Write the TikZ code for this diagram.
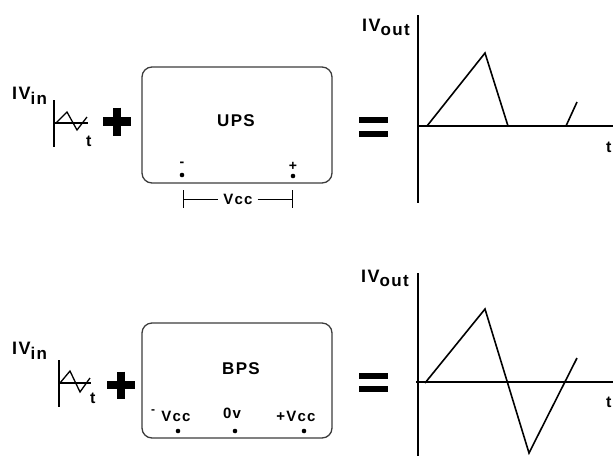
\documentclass[tikz,border=0pt]{standalone}
\usepackage{fontspec}
\setmainfont{Liberation Sans}
\newfontfamily\psfont[LetterSpace=8]{Liberation Sans}
\definecolor{ps-frame}{RGB}{60,60,60}

\begin{document}
\begin{tikzpicture}[x=1pt,y=-1pt,
    axis/.style={line width=1.2pt},
    wave/.style={line width=1.6pt},
    psbox/.style={draw=ps-frame, line width=1.3pt, rounded corners=10pt,
      minimum width=190pt, minimum height=116pt},
    lbl/.style={inner sep=0pt, font=\psfont\bfseries\fontsize{15}{15}\selectfont},
    big/.style={inner sep=0pt, font=\psfont\bfseries\fontsize{18}{18}\selectfont},
    pin/.style={circle, fill, inner sep=0pt, minimum size=4.6pt}]
    \useasboundingbox (0,0) rectangle (613,456);

    % unipolar supply
    \node[big, anchor=base west] (vinA) at (12,99)
        {IV\raisebox{-5pt}{\fontsize{17}{17}\selectfont in}};
    \draw[axis] (54,100) -- (54,147);
    \draw[axis] (54,123) -- (88,123);
    \draw[line width=1.3pt] (56,123) -- (67,112) -- (77,130) -- (87,117);
    \node[lbl, font=\psfont\bfseries\fontsize{16}{16}\selectfont, anchor=base west] (tA) at (86,146) {t};
    \draw[line width=8.5pt] (103,121.5) -- (131,121.5) (117,107.5) -- (117,135.5);

    \node[psbox] (ups) at (237,125) {};
    \node[lbl, font=\psfont\bfseries\fontsize{17}{17}\selectfont] (upsT) at (236,121) {UPS};
    \node[lbl, font=\psfont\bfseries\fontsize{14}{14}\selectfont] (minA) at (182,164) {-};
    \node[lbl, font=\psfont\bfseries\fontsize{14}{14}\selectfont] (plusA) at (293,166) {+};
    \node[pin] (pinN) at (182,175) {};
    \node[pin] (pinP) at (293,176) {};

    \coordinate (dimL) at (183,199);
    \coordinate (dimR) at (292,199);
    \node[lbl, inner xsep=5pt] (vccA) at (238,199) {Vcc};
    \draw[line width=1pt] (dimL) -- (vccA) (vccA) -- (dimR);
    \draw[line width=1pt] (183,190) -- (183,208) (292,190) -- (292,208);

    \fill (359,117) rectangle (388,123);
    \fill (359,131) rectangle (388,137);

    \node[big, anchor=base west] (voutA) at (362,31)
        {IV\raisebox{-4pt}{\fontsize{17}{17}\selectfont out}};
    \draw[axis] (418,15) -- (418,203);
    \draw[axis] (418,126) -- (613,126);
    \draw[wave] (427,126) -- (485,53) -- (508,126);
    \draw[wave] (566,126) -- (577,102);
    \node[lbl, font=\psfont\bfseries\fontsize{16}{16}\selectfont, anchor=base west] (tC) at (606,152) {t};

    % bipolar supply
    \node[big, anchor=base west] (vinB) at (12,354)
        {IV\raisebox{-5pt}{\fontsize{17}{17}\selectfont in}};
    \draw[axis] (59,360) -- (59,407);
    \draw[axis] (59,383) -- (91,383);
    \draw[line width=1.3pt] (60,383) -- (70,371) -- (80,392) -- (90,378);
    \node[lbl, font=\psfont\bfseries\fontsize{16}{16}\selectfont, anchor=base west] (tB) at (90,403) {t};
    \draw[line width=8.5pt] (107,385) -- (135,385) (121,371.5) -- (121,398.5);

    \node[psbox, minimum height=115pt] (bps) at (237,380.5) {};
    \node[lbl, font=\psfont\bfseries\fontsize{17}{17}\selectfont] (bpsT) at (241,369) {BPS};
    \node[lbl, font=\psfont\bfseries\fontsize{12}{12}\selectfont] (minB) at (153,412) {-};
    \node[lbl, anchor=base] (vccN) at (176,421) {Vcc};
    \node[lbl, anchor=base] (zero) at (232,418) {0v};
    \node[lbl, anchor=base] (vccP) at (296,421) {+Vcc};
    \node[pin] (pinL) at (178,431) {};
    \node[pin] (pinM) at (235,431) {};
    \node[pin] (pinR) at (304,431) {};

    \fill (359,373) rectangle (388,379);
    \fill (359,386) rectangle (388,392);

    \node[big, anchor=base west] (voutB) at (361,282)
        {IV\raisebox{-4pt}{\fontsize{17}{17}\selectfont out}};
    \draw[axis] (418,273) -- (418,456);
    \draw[axis] (416,382) -- (613,382);
    \draw[wave] (425,383) -- (485,309) -- (529,453) -- (577,358);
    \node[lbl, font=\psfont\bfseries\fontsize{16}{16}\selectfont, anchor=base west] (tD) at (606,407) {t};
\end{tikzpicture}
\end{document}
